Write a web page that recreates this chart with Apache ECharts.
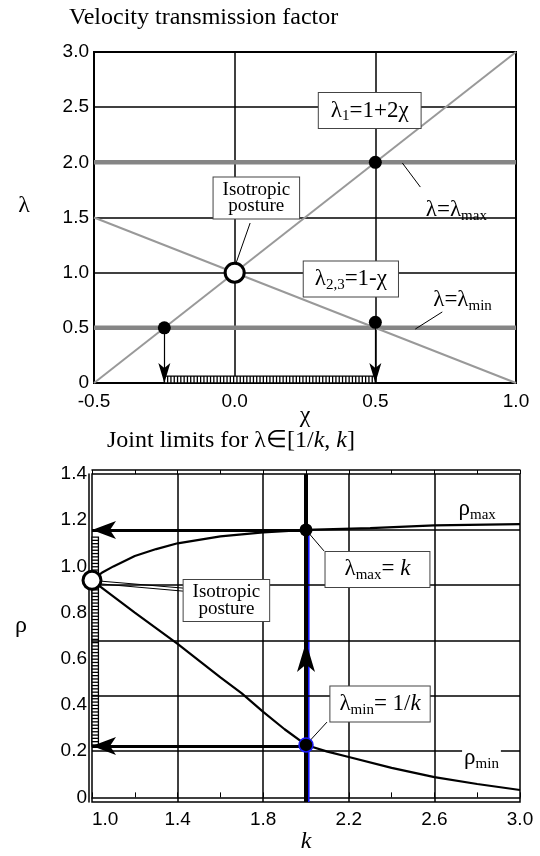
<!DOCTYPE html>
<html>
<head>
<meta charset="utf-8">
<script src="https://cdn.jsdelivr.net/npm/echarts@6/dist/echarts.min.js"></script>
<style>
html,body{margin:0;padding:0;background:#fff}
#main{width:540px;height:856px}
</style>
</head>
<body>
<div id="main"></div>
<script>
var SERIF = 'Liberation Serif';
var SANS = 'Liberation Sans';

// ---------- top: velocity transmission factor ----------
var lam1Line = [[-0.5, 0], [1.0, 3.0]];      // λ1 = 1+2χ
var lam23Line = [[-0.5, 1.5], [1.0, 0]];     // λ2,3 = 1-χ
var lamMaxLine = [[-0.5, 2.0], [1.0, 2.0]];
var lamMinLine = [[-0.5, 0.5], [1.0, 0.5]];
var topDots = [[-0.25, 0.5], [0.5, 2.0], [0.5, 0.55]];
var topIso = [[0, 1]];
var topArrows = [[[-0.25, 0.5], [-0.25, 0]], [[0.5, 0.55], [0.5, 0]]];
var topHatch = [[-0.25, 0.5, 0, 0.063]];
var topLeaders = [
  [[0.055, 1.45], [0.004, 1.08]],
  [[0.596, 1.994], [0.66, 1.776]],
  [[0.738, 0.644], [0.642, 0.489]]
];
var topNotes = [
  {at: [0.48, 2.47], text: '{m|λ}{s|1}{m|=1+2χ}', box: true, pad: [4, 12]},
  {at: [0.077, 1.677], text: '{p|Isotropic}\n{p|posture}', box: true},
  {at: [0.413, 0.943], text: '{m|λ}{s|2,3}{m|=1-χ}', box: true, pad: [4, 11]},
  {at: [0.788, 1.568], text: '{m|λ=λ}{s|max}', box: false},
  {at: [0.81, 0.752], text: '{m|λ=λ}{s|min}', box: false}
];

// ---------- bottom: joint limits ----------
var rhoMaxPts = [[1.0, 0.94], [1.05, 0.975], [1.1, 1.0], [1.2, 1.045], [1.3, 1.075], [1.4, 1.10],
  [1.6, 1.13], [1.8, 1.147], [2.0, 1.158], [2.3, 1.166], [2.6, 1.178], [3.0, 1.183]];
var rhoMinPts = [[1.0, 0.94], [1.2, 0.80], [1.4, 0.665], [1.6, 0.52], [1.7, 0.45], [1.8, 0.37],
  [1.9, 0.295], [2.0, 0.227], [2.1, 0.198], [2.2, 0.175], [2.4, 0.128], [2.6, 0.088], [2.8, 0.058], [3.0, 0.032]];
var rhoLabels = [0, 0.2, 0.4, 0.6, 0.8, 1.0, 1.2, 1.4];
var rhoGrid = [0.2, 0.44, 0.68, 0.92, 1.16];   // grid of the scanned figure is not on the labels
var kGrid = [1.4, 1.8, 2.2, 2.6];
var kLine = [[2.0, -0.02], [2.0, 1.4]];
var kBlue = [[2.0, -0.02], [2.0, 1.158]];
var kArrow = [[[2.0, 0.227], [2.0, 0.673]]];
var botArrows = [[[2.0, 1.158], [1.0, 1.158]], [[2.0, 0.222], [1.0, 0.222]]];
var botDots = [[2.0, 1.158]];
var botDotMin = [[2.0, 0.227]];
var botIso = [[1.0, 0.94]];
var botHatch = [[1.0, 1.03, 0.222, 1.127]];
var botLeaders = [
  [[1.03, 0.937], [1.425, 0.906]],
  [[1.03, 0.925], [1.425, 0.893]],
  [[2.0, 1.158], [2.084, 1.067]],
  [[2.0, 0.227], [2.098, 0.326]]
];
var botNotes = [
  {at: [1.628, 0.852], text: '{p|Isotropic}\n{p|posture}', box: true},
  {at: [2.334, 0.987], text: '{m|λ}{s|max}{m|= }{i|k}', box: true, pad: [4, 19]},
  {at: [2.346, 0.404], text: '{m|λ}{s|min}{m|= 1/}{i|k}', box: true, pad: [4, 9]},
  {at: [2.80, 1.25], text: '{m|ρ}{s|max}', box: false},
  {at: [2.82, 0.17], text: '{m|ρ}{s|min}', box: false, white: true}
];

var rich = {
  m: {fontFamily: SERIF, fontSize: 23, lineHeight: 27, color: '#000'},
  i: {fontFamily: SERIF, fontSize: 23, lineHeight: 27, fontStyle: 'italic', color: '#000'},
  s: {fontFamily: SERIF, fontSize: 15, lineHeight: 15, verticalAlign: 'bottom', color: '#000'},
  p: {fontFamily: SERIF, fontSize: 19, lineHeight: 16.5, color: '#000'}
};

// arrow head with its tip at the symbol centre (upper half is empty)
var ARROW = 'path://M0,-20M0,0L7,20L0,15L-7,20Z';

function seg(pts, xi, color, width, z) {
  return {type: 'line', xAxisIndex: xi, yAxisIndex: xi, data: pts, symbol: 'none', silent: true,
    lineStyle: {color: color, width: width}, z: z || 2};
}
function fmt(v) { return v === 0 ? '0' : v.toFixed(1); }
function fmt1(v) { return v.toFixed(1); }

function hatchItem(params, api) {
  var a = api.coord([api.value(0), api.value(2)]);
  var b = api.coord([api.value(1), api.value(3)]);
  var x = Math.min(a[0], b[0]), y = Math.min(a[1], b[1]);
  var w = Math.abs(b[0] - a[0]), h = Math.abs(b[1] - a[1]);
  var kids = [{type: 'rect', shape: {x: x, y: y, width: w, height: h},
    style: {fill: '#fff', stroke: '#000', lineWidth: 1.3}}];
  var step = 3.3;
  if (w > h) {
    for (var px = x + step; px < x + w - 1; px += step)
      kids.push({type: 'line', shape: {x1: px, y1: y, x2: px, y2: y + h}, style: {stroke: '#000', lineWidth: 1.3}});
  } else {
    for (var py = y + step; py < y + h - 1; py += step)
      kids.push({type: 'line', shape: {x1: x, y1: py, x2: x + w, y2: py}, style: {stroke: '#000', lineWidth: 1.3}});
  }
  return {type: 'group', children: kids};
}

function notes(list, xi) {
  return {
    type: 'scatter', xAxisIndex: xi, yAxisIndex: xi, symbolSize: 0, silent: true, z: 10,
    itemStyle: {opacity: 1},
    data: list.map(function (n) {
      return {value: n.at, label: {
        show: true, position: 'inside', formatter: n.text, rich: rich,
        backgroundColor: (n.box || n.white) ? '#fff' : 'transparent',
        borderColor: n.box ? '#444' : 'transparent', borderWidth: n.box ? 1 : 0,
        padding: n.pad || (n.box ? [4, 9] : [1, 2])
      }};
    })
  };
}

var chart = echarts.init(document.getElementById('main'), null, {renderer: 'canvas'});
chart.setOption({
  animation: false,
  backgroundColor: '#fff',
  title: [
    {text: 'Velocity transmission factor', left: 64, top: 1,
      textStyle: {fontFamily: SERIF, fontSize: 24, fontWeight: 'normal', color: '#000'}},
    {text: '{n|Joint limits for λ∈[1/}{i|k}{n|, }{i|k}{n|]}', left: 102, top: 424,
      textStyle: {fontWeight: 'normal', rich: {
        n: {fontFamily: SERIF, fontSize: 24, fontWeight: 'normal', color: '#000'},
        i: {fontFamily: SERIF, fontSize: 24, fontWeight: 'normal', fontStyle: 'italic', color: '#000'}}}}
  ],
  grid: [
    {left: 94, top: 52, width: 422, height: 331, show: true, borderColor: '#000', borderWidth: 2,
      backgroundColor: '#fff', outerBoundsMode: 'none'},
    {left: 92, top: 474, width: 428, height: 328, show: true, borderColor: '#000', borderWidth: 1.5,
      backgroundColor: '#fff', outerBoundsMode: 'none'}
  ],
  xAxis: [
    {gridIndex: 0, type: 'value', min: -0.5, max: 1.0, interval: 0.5,
      axisLine: {show: true, lineStyle: {color: '#000', width: 2}}, axisTick: {show: false},
      splitLine: {show: true, lineStyle: {color: '#000', width: 1.5}},
      axisLabel: {formatter: fmt1, color: '#000', fontFamily: SANS, fontSize: 19, margin: 9},
      name: 'χ', nameLocation: 'middle', nameGap: 21, nameMoveOverlap: false,
      nameTextStyle: {fontFamily: SERIF, fontSize: 24, color: '#000', verticalAlign: 'top'}},
    {gridIndex: 1, type: 'value', min: 1.0, max: 3.0, interval: 0.2, offset: 5,
      axisLine: {show: true, lineStyle: {color: '#000', width: 1.5}},
      axisTick: {show: true, inside: true, length: 5, lineStyle: {color: '#000', width: 1}},
      splitLine: {show: false},
      axisLabel: {color: '#000', fontFamily: SANS, fontSize: 19, margin: 3, alignMinLabel: 'left',
        formatter: function (v) { return Math.round((v - 1) / 0.2) % 2 === 0 ? v.toFixed(1) : ''; }},
      name: 'k', nameLocation: 'middle', nameGap: 21,
      nameTextStyle: {fontFamily: SERIF, fontSize: 24, fontStyle: 'italic', color: '#000', verticalAlign: 'top'}},
    {gridIndex: 1, type: 'value', position: 'top', min: 1.0, max: 3.0, interval: 0.2, offset: 4,
      axisLine: {show: true, lineStyle: {color: '#000', width: 1.5}},
      axisTick: {show: true, inside: true, length: 4, lineStyle: {color: '#000', width: 1}},
      splitLine: {show: false}, axisLabel: {show: false}}
  ],
  yAxis: [
    {gridIndex: 0, type: 'value', min: 0, max: 3.0, interval: 0.5,
      axisLine: {show: false}, axisTick: {show: false},
      splitLine: {show: true, lineStyle: {color: '#000', width: 1.5}},
      axisLabel: {formatter: fmt, color: '#000', fontFamily: SANS, fontSize: 19, margin: 5},
      name: 'λ', nameLocation: 'middle', nameRotate: 0, nameGap: 64,
      nameTextStyle: {fontFamily: SERIF, fontSize: 24, color: '#000', verticalAlign: 'bottom'}},
    {gridIndex: 1, type: 'value', min: -0.02, max: 1.4, offset: 3,
      axisLine: {show: true, lineStyle: {color: '#000', width: 1.5}}, axisTick: {show: false},
      splitLine: {show: false},
      axisLabel: {customValues: rhoLabels, formatter: fmt, color: '#000', fontFamily: SANS, fontSize: 19, margin: 2},
      name: 'ρ', nameLocation: 'middle', nameRotate: 0, nameGap: 62,
      nameTextStyle: {fontFamily: SERIF, fontSize: 24, color: '#000', verticalAlign: 'bottom'}}
  ],
  series: [
    // top chart
    seg(lamMaxLine, 0, '#858585', 4.5, 3),
    seg(lamMinLine, 0, '#858585', 4.5, 3),
    seg(lam1Line, 0, '#999', 2, 3),
    seg(lam23Line, 0, '#999', 2, 3),
    {type: 'custom', xAxisIndex: 0, yAxisIndex: 0, renderItem: hatchItem, data: topHatch,
      encode: {x: [0, 1], y: [2, 3]}, silent: true, z: 4},
    {type: 'lines', coordinateSystem: 'cartesian2d', xAxisIndex: 0, yAxisIndex: 0, silent: true, z: 5,
      symbol: ['none', ARROW], symbolSize: [0, [12, 40]],
      lineStyle: {color: '#000', width: 1.2, opacity: 1},
      data: topArrows.map(function (c) { return {coords: c}; })},
    {type: 'lines', coordinateSystem: 'cartesian2d', xAxisIndex: 0, yAxisIndex: 0, silent: true, z: 5,
      lineStyle: {color: '#000', width: 1, opacity: 1},
      data: topLeaders.map(function (c) { return {coords: c}; })},
    {type: 'scatter', xAxisIndex: 0, yAxisIndex: 0, data: topDots, symbolSize: 13, silent: true, z: 6,
      itemStyle: {color: '#000', opacity: 1}},
    {type: 'scatter', xAxisIndex: 0, yAxisIndex: 0, data: topIso, symbolSize: 19, silent: true, z: 6,
      itemStyle: {color: '#fff', borderColor: '#000', borderWidth: 3, opacity: 1}},
    notes(topNotes, 0),

    // bottom chart: grid of the original figure
    {type: 'line', xAxisIndex: 1, yAxisIndex: 1, data: [], silent: true, z: 1,
      markLine: {silent: true, symbol: 'none', label: {show: false}, animation: false,
        lineStyle: {color: '#000', width: 1.5, type: 'solid'},
        data: kGrid.map(function (k) { return {xAxis: k}; })
          .concat(rhoGrid.map(function (r) { return {yAxis: r}; }))}},
    seg(rhoMaxPts, 1, '#000', 2.2, 3),
    seg(rhoMinPts, 1, '#000', 2.2, 3),
    seg(kLine, 1, '#000', 4, 3),
    {type: 'line', xAxisIndex: 1, yAxisIndex: 1, data: kBlue, symbol: 'none', silent: true, z: 3,
      lineStyle: {color: '#000', width: 4, shadowColor: '#1010ff', shadowBlur: 0, shadowOffsetX: 1.6}},
    {type: 'custom', xAxisIndex: 1, yAxisIndex: 1, renderItem: hatchItem, data: botHatch,
      encode: {x: [0, 1], y: [2, 3]}, silent: true, z: 4},
    {type: 'lines', coordinateSystem: 'cartesian2d', xAxisIndex: 1, yAxisIndex: 1, silent: true, z: 5,
      symbol: ['none', ARROW], symbolSize: [0, [18, 48]],
      lineStyle: {color: '#000', width: 3, opacity: 1},
      data: botArrows.map(function (c) { return {coords: c}; })},
    {type: 'lines', coordinateSystem: 'cartesian2d', xAxisIndex: 1, yAxisIndex: 1, silent: true, z: 5,
      symbol: ['none', ARROW], symbolSize: [0, [18, 60]],
      lineStyle: {color: '#000', width: 4, opacity: 1},
      data: kArrow.map(function (c) { return {coords: c}; })},
    {type: 'lines', coordinateSystem: 'cartesian2d', xAxisIndex: 1, yAxisIndex: 1, silent: true, z: 5,
      lineStyle: {color: '#000', width: 1, opacity: 1},
      data: botLeaders.map(function (c) { return {coords: c}; })},
    {type: 'scatter', xAxisIndex: 1, yAxisIndex: 1, data: botDots, symbolSize: 13, silent: true, z: 6,
      itemStyle: {color: '#000', opacity: 1}},
    {type: 'scatter', xAxisIndex: 1, yAxisIndex: 1, data: botDotMin, symbolSize: 14, silent: true, z: 6,
      itemStyle: {color: '#000', borderColor: '#1a1aff', borderWidth: 1.5, opacity: 1}},
    {type: 'scatter', xAxisIndex: 1, yAxisIndex: 1, data: botIso, symbolSize: 18, silent: true, z: 6,
      itemStyle: {color: '#fff', borderColor: '#000', borderWidth: 3, opacity: 1}},
    notes(botNotes, 1)
  ]
});
</script>
</body>
</html>
